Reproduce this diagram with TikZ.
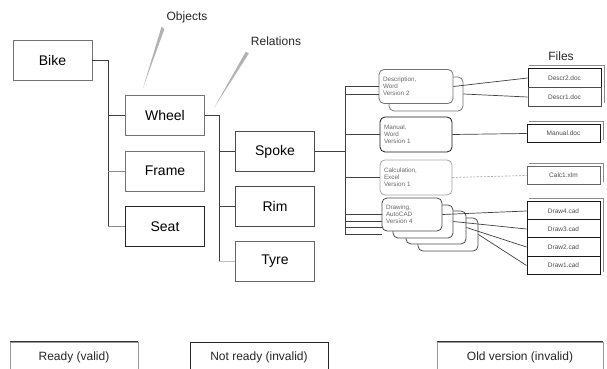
\documentclass[tikz,border=0pt]{standalone}
\usepackage{fontspec}
\setmainfont{Liberation Sans}
\setsansfont{Liberation Sans}
\usetikzlibrary{calc}
\begin{document}
\begin{tikzpicture}[x=1pt,y=-1pt,
  obj/.style={draw=#1, line width=0.8pt, minimum width=79pt, minimum height=40pt, inner sep=0pt, font=\fontsize{14}{16}\selectfont, fill=white},
  obj/.default=black!70,
  conn/.style={draw=black!75, line width=0.7pt},
  doc/.style={draw=#1, fill=white, rounded corners=5pt, line width=0.8pt, minimum width=74pt, minimum height=34pt, inner sep=3pt, align=left, font=\fontsize{6.3}{7.2}\selectfont, text=black!60},
  doc/.default=black!60,
  file/.style={draw=#1, fill=white, line width=0.9pt, minimum width=73pt, minimum height=18.5pt, inner sep=0pt, font=\fontsize{6.5}{7.5}\selectfont, text=black!70},
  file/.default=black!80,
  lbl/.style={font=\fontsize{12}{14}\selectfont, text=black!85, inner sep=0pt},
  legend/.style={draw=black!40, line width=0.6pt, minimum height=30pt, inner sep=0pt, font=\fontsize{12}{14}\selectfont, text=black!85},
  pointer/.style={fill=black!30, draw=none}
]
\useasboundingbox (0,0) rectangle (607,369);

% ---------- object boxes ----------
\node[obj=black!55] (bike) at (52.5,60) {Bike};
\node[obj=black!55] (wheel) at (165,115.5) {Wheel};
\node[obj=black!55] (frame) at (165,171) {Frame};
\node[obj=black!85] (seat) at (165,226.5) {Seat};
\node[obj=black!70] (spoke) at (275,151.5) {Spoke};
\node[obj=black!70] (rim) at (275,206) {Rim};
\node[obj=black!60] (tyre) at (275,261) {Tyre};

% ---------- labels ----------
\node[lbl] (objects) at (187,17) {Objects};
\node[lbl] (relations) at (276,41) {Relations};
\node[lbl] (files) at (561,56) {Files};
\coordinate (objtip) at (143,88);
\coordinate (reltip) at (214,108);
\fill[pointer] (objtip) -- ($(objects.south west)+(-5,4)$) -- ($(objects.south west)+(-2,6)$) -- cycle;
\fill[pointer] (reltip) -- ($(relations.south west)+(-5,6)$) -- ($(relations.south west)+(-2,8)$) -- cycle;

% ---------- tree connectors ----------
\coordinate (busA) at (108,60);
\draw[conn] (bike.east) -- (busA) -- (busA |- seat.west);
\draw[conn] (wheel.west) -- (wheel.west -| busA);
\draw[conn,draw=black!45] (frame.west) -- (frame.west -| busA);
\draw[conn,draw=black!45] (seat.west) -- (seat.west -| busA);

\coordinate (busB) at (219,115.5);
\draw[conn] (wheel.east) -- (busB) -- (busB |- tyre.west);
\draw[conn] (spoke.west) -- (spoke.west -| busB);
\draw[conn] (rim.west) -- (rim.west -| busB);
\draw[conn,draw=black!25] (tyre.west) -- (tyre.west -| busB);

% ---------- document boxes ----------
\coordinate (busC) at (345,151.5);
\node[doc=black!55, minimum width=74pt] (descB) at (426,94) {};
\node[doc=black!55, text width=66pt] (desc) at (416,86.5) {Description,\\Word\\Version 2};
\node[doc=black!90, minimum width=72pt, minimum height=35pt, text width=64pt] (manual) at (416,134.5) {Manual,\\Word\\Version 1};
\node[doc=black!35, minimum width=72pt, minimum height=35pt, text width=64pt] (calc) at (416,177.5) {Calculation,\\Excel\\Version 1};
\node[doc=black!70, minimum width=60pt, minimum height=33pt] (drB3) at (448,234.5) {};
\node[doc=black!70, minimum width=60pt, minimum height=33pt] (drB2) at (436,227.5) {};
\node[doc=black!70, minimum width=60pt, minimum height=33pt] (drB1) at (423,221.5) {};
\node[doc=black!70, minimum width=60pt, minimum height=33pt, text width=52pt] (draw) at (412,214.5) {Drawing,\\AutoCAD\\Version 4};

% spoke bus
\draw[conn] (spoke.east) -- (busC);
\draw[conn] (busC |- desc.west) -- (busC |- drB3.west);
\draw[conn] (desc.west -| busC) -- (desc.west);
\draw[conn] (manual.west -| busC) -- (manual.west);
\draw[conn] (calc.west -| busC) -- (calc.west);
\draw[conn] (draw.west -| busC) -- (draw.west);
\draw[conn] (descB.west -| busC) -- (desc.west |- descB.west);
\draw[conn] (drB1.west -| busC) -- (draw.west |- drB1.west);
\draw[conn] (drB2.west -| busC) -- (draw.west |- drB2.west);
\draw[conn] (drB3.west -| busC) -- (draw.west |- drB3.west);

% ---------- files ----------
\draw[black!45, line width=0.5pt] (529,65) -- (604,65) -- (604,103);
\node[file=black!90] (d2) at (564.5,78) {Descr2.doc};
\node[file=black!70] (d1) at (564.5,97) {Descr1.doc};
\draw[black!45, line width=0.5pt] (529,121) -- (603,121) -- (603,140);
\node[file=black!90] (mf) at (563.5,133.5) {Manual.doc};
\draw[black!45, line width=0.5pt] (529,163) -- (603,163) -- (603,182);
\node[file=black!60] (cf) at (563.5,175.5) {Calc1.xlm};
\draw[black!45, line width=0.5pt] (529,198) -- (603,198) -- (603,272);
\node[file=black!90] (f4) at (563.5,211) {Draw4.cad};
\node[file=black!90] (f3) at (563.5,229) {Draw3.cad};
\node[file=black!90] (f2) at (563.5,247) {Draw2.cad};
\node[file=black!90] (f1) at (563.5,265.5) {Draw1.cad};

% ---------- doc to file connectors ----------
\draw[conn] (desc.east) -- (d2.west);
\draw[conn] (descB.east) -- (d1.west);
\draw[conn] (manual.east) -- (mf.west);
\draw[conn, draw=black!35, dash pattern=on 2pt off 1.5pt] (calc.east) -- (cf.west);
\draw[conn] (draw.east) -- (f4.west);
\draw[conn] (drB1.east) -- (f3.west);
\draw[conn] (drB2.east) -- (f2.west);
\draw[conn] (drB3.east) -- (f1.west);

% ---------- legend ----------
\node[legend, minimum width=128pt] (ready) at (74,357) {Ready (valid)};
\draw[black!80, line width=1pt] (ready.north west) -- (ready.north east);
\node[legend, draw=black!85, minimum width=138pt] (notready) at (259,357) {Not ready (invalid)};
\node[legend, minimum width=166pt] (oldv) at (520,357) {Old version (invalid)};
\draw[black!80, line width=1pt] (oldv.north west) -- (oldv.north east);
\end{tikzpicture}
\end{document}
